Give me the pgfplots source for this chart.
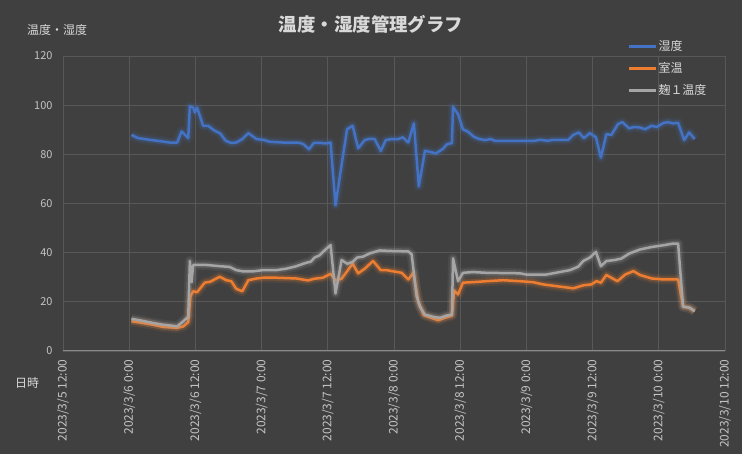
\documentclass[border=0pt]{standalone}
\usepackage{fontspec}
\setmainfont{Noto Sans CJK JP}
\usepackage{pgfplots}
\usepackage{pgfplotstable}
\pgfplotsset{compat=1.18}
\definecolor{bg}{HTML}{404040}
\definecolor{gridc}{HTML}{585858}
\definecolor{axc}{HTML}{8A8A8A}
\definecolor{txt}{HTML}{D9D9D9}
\definecolor{ticktxt}{HTML}{C4C4C4}
\definecolor{cblue}{HTML}{4472C4}
\definecolor{corange}{HTML}{ED7D31}
\definecolor{cgray}{HTML}{A5A5A5}

\pgfplotstableread{
h v
12.4 87.9
13.6 86.6
15.7 85.9
18.1 85.2
19.3 84.8
20.7 84.8
21.5 89.3
22.7 86.6
23.0 99.5
23.6 99.0
23.9 97.0
24.3 99.0
25.4 91.6
26.3 91.6
27.5 89.6
28.5 88.5
29.5 85.5
30.5 84.6
31.4 84.8
32.5 86.2
33.6 88.6
35.1 86.2
36.3 85.9
37.5 85.1
39.9 84.8
42.9 84.7
43.6 84.1
44.6 82.1
45.5 84.7
46.5 84.7
47.6 84.4
48.5 84.8
49.4 59.3
50.7 78.7
51.5 90.2
52.5 91.6
53.5 82.5
54.7 85.8
55.6 86.3
56.5 86.2
57.6 81.4
58.5 85.8
59.5 86.2
60.7 86.2
61.6 86.9
62.6 84.8
63.6 92.6
64.5 67.0
65.6 81.4
66.5 81.0
67.6 80.4
68.8 82.1
69.6 84.1
70.5 84.6
70.7 99.3
71.6 96.3
72.5 90.2
73.4 89.2
74.5 87.1
75.5 86.2
76.5 85.8
77.5 86.2
78.3 85.5
82.8 85.5
85.5 85.5
86.4 85.9
87.9 85.5
88.8 85.9
91.6 85.9
92.5 87.9
93.5 88.9
94.4 86.6
95.5 88.6
96.6 86.9
97.5 78.7
98.5 88.2
99.4 87.9
100.6 92.3
101.4 93.1
102.6 90.6
103.5 91.1
104.6 90.9
105.5 90.2
106.7 91.6
107.6 91.1
108.8 92.7
109.6 93.1
110.5 92.6
111.5 92.8
112.6 85.8
113.5 88.9
114.5 86.2
}\humid

\pgfplotstableread{
h v
12.4 12.1
13.9 11.6
16.3 10.7
18.1 9.8
20.7 9.4
21.8 10.0
22.7 11.7
23.1 22.3
23.6 24.3
24.3 23.9
25.7 27.8
26.7 28.2
28.4 30.2
29.6 28.8
30.5 28.4
31.4 25.3
32.5 24.3
33.6 28.8
35.1 29.5
36.3 29.8
38.7 29.8
42.3 29.5
44.4 28.7
45.6 29.4
47.1 29.8
48.5 31.4
49.4 28.8
50.5 29.4
52.5 35.5
53.5 31.6
54.7 33.5
56.2 36.6
57.6 32.9
58.6 32.9
61.4 31.8
62.6 29.1
63.5 31.8
64.4 20.2
65.4 14.6
67.1 13.2
68.0 12.5
69.2 13.5
70.5 14.4
70.9 24.6
71.6 23.0
72.5 27.8
74.3 28.0
76.8 28.4
79.8 28.8
82.8 28.4
85.2 28.0
87.0 27.1
90.0 26.2
92.5 25.5
94.3 26.7
95.8 27.1
96.7 28.4
97.5 27.8
98.5 30.9
100.5 28.4
101.9 31.1
103.4 32.5
104.6 30.9
106.7 29.5
108.8 29.1
111.5 29.1
112.4 18.2
113.5 17.6
114.5 16.2
}\room

\pgfplotstableread{
h v
12.4 13.1
13.9 12.5
16.3 11.4
18.1 10.7
19.3 10.4
20.7 10.0
21.8 12.1
22.7 13.9
23.0 36.6
23.3 28.0
23.6 35.0
26.0 35.0
28.4 34.5
30.2 34.2
31.4 32.9
32.6 32.4
34.5 32.4
36.3 32.9
38.7 32.9
40.5 33.5
42.0 34.3
43.2 35.2
44.1 35.9
44.9 36.3
45.6 38.0
46.5 38.9
47.5 41.1
48.5 43.1
49.4 23.4
50.5 37.0
51.5 35.5
52.5 36.2
53.3 38.0
54.4 38.4
55.6 39.7
57.4 40.9
59.2 40.7
62.6 40.5
63.2 39.3
64.1 22.3
64.7 18.0
65.6 14.8
67.1 13.9
68.3 13.5
69.5 14.4
70.5 14.8
70.7 37.7
71.6 28.4
72.5 31.8
74.3 32.1
76.8 31.8
82.8 31.6
84.0 31.1
87.6 31.1
90.0 32.1
91.9 32.9
93.4 34.3
94.3 36.6
95.5 38.0
96.6 40.3
97.5 34.5
98.5 36.6
100.0 37.0
101.2 37.6
102.7 39.7
104.6 41.3
106.7 42.3
108.8 43.0
110.6 43.7
111.5 43.7
112.4 18.0
113.6 17.6
114.5 16.2
}\koji

\begin{document}
\begin{tikzpicture}[x=1bp,y=1bp]
\fill[bg] (0,0) rectangle (742,454);
\useasboundingbox (0,0) rectangle (742,454);
\node[text=txt, font=\bfseries\fontsize{18.5}{22}\selectfont] at (371,430) {温度・湿度管理グラフ};
\node[text=txt, anchor=west, inner sep=0pt, font=\fontsize{12}{14}\selectfont] at (27,424) {温度・湿度};
\node[text=txt, anchor=west, inner sep=0pt, font=\fontsize{12}{14}\selectfont] at (15,71) {日時};
\begin{axis}[
  at={(63bp,103bp)}, anchor=south west,
  scale only axis, width=662bp, height=295bp,
  xmin=0, xmax=120, ymin=0, ymax=120,
  xtick={0,12,...,120},
  xticklabels={2023/3/5 12:00,2023/3/6 0:00,2023/3/6 12:00,2023/3/7 0:00,2023/3/7 12:00,2023/3/8 0:00,2023/3/8 12:00,2023/3/9 0:00,2023/3/9 12:00,2023/3/10 0:00,2023/3/10 12:00},
  ytick={0,20,...,120},
  extra y ticks={0}, extra y tick labels={},
  extra y tick style={grid=major, major grid style={color=axc, line width=1bp}},
  grid=major,
  major grid style={color=gridc, line width=0.9bp},
  axis line style={draw=none},
  major tick length=0pt,
  tick label style={text=ticktxt, font=\fontsize{11}{13}\selectfont},
  /pgf/number format/assume math mode=true,
  yticklabel style={xshift=-7bp},
  xticklabel style={yshift=-5bp, rotate=90, anchor=east, font=\fontsize{12}{14}\selectfont},
  legend style={at={(0.848,1.064)}, anchor=north west, draw=none, fill=none,
    text=txt, font=\fontsize{12}{14}\selectfont, row sep=7.5bp,
    nodes={inner sep=1.5bp}},
  legend cell align=left,
  legend image code/.code={\draw[#1, line width=2.5bp] (0bp,0bp) -- (27bp,0bp);},
  line join=round,
]
\addplot[forget plot, color=cblue, line width=10bp, opacity=0.10] table[x=h,y=v] {\humid};
\addplot[forget plot, color=cblue, line width=6bp, opacity=0.20] table[x=h,y=v] {\humid};
\addplot[color=cblue, line width=2.5bp] table[x=h,y=v] {\humid};
\addplot[forget plot, color=corange, line width=10bp, opacity=0.10] table[x=h,y=v] {\room};
\addplot[forget plot, color=corange, line width=6bp, opacity=0.20] table[x=h,y=v] {\room};
\addplot[color=corange, line width=2.5bp] table[x=h,y=v] {\room};
\addplot[forget plot, color=cgray, line width=10bp, opacity=0.10] table[x=h,y=v] {\koji};
\addplot[forget plot, color=cgray, line width=6bp, opacity=0.20] table[x=h,y=v] {\koji};
\addplot[color=cgray, line width=2.5bp] table[x=h,y=v] {\koji};
\legend{湿度,室温,麹１温度}
\end{axis}
\end{tikzpicture}
\end{document}
